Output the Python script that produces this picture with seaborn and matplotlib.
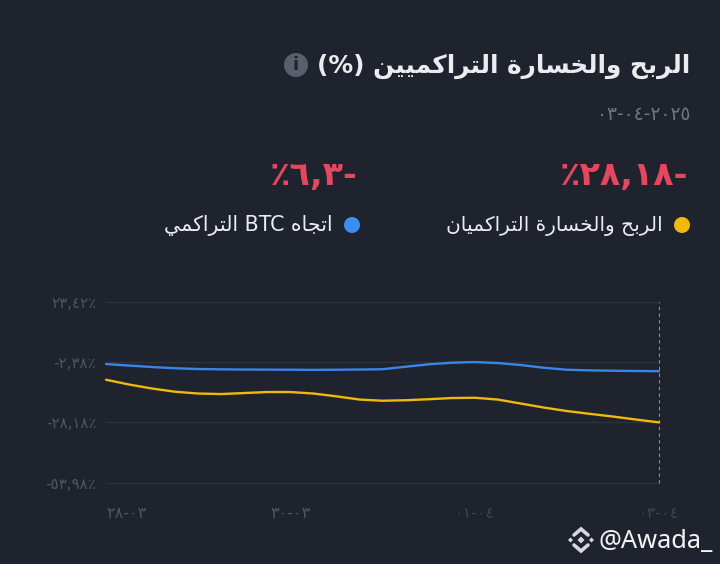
import pandas as pd
import matplotlib
matplotlib.use("Agg")
import matplotlib.pyplot as plt
from matplotlib.patches import Circle, Polygon
import seaborn as sns

# values, every 6 hours
dates = pd.date_range("2025-03-28", periods=25, freq="6h")
trader_pnl = [-9.95, -12.00, -13.71, -15.08, -15.85, -16.07, -15.64, -15.21, -15.21,
              -15.85, -17.05, -18.42, -18.93, -18.72, -18.29, -17.78, -17.65, -18.42,
              -20.13, -21.84, -23.34, -24.54, -25.69, -26.97, -28.18]
btc_trend = [-3.24, -3.88, -4.52, -5.03, -5.37, -5.50, -5.59, -5.63, -5.67,
             -5.72, -5.67, -5.59, -5.46, -4.39, -3.36, -2.68, -2.38, -2.81,
             -3.66, -4.82, -5.67, -5.95, -6.10, -6.20, -6.30]

y_ticks = [23.42, -2.38, -28.18, -53.98]
y_labels = ["٢٣,٤٢٪", "-٢,٣٨٪", "-٢٨,١٨٪", "-٥٣,٩٨٪"]
x_ticks = pd.to_datetime(["2025-03-28", "2025-03-30", "2025-04-01", "2025-04-03"])
x_labels = ["٢٨-٠٣", "٣٠-٠٣", "٠١-٠٤", "٠٣-٠٤"]

BG = "#1e232d"
GRID = "#2c323c"
YELLOW = "#f0b90b"
BLUE = "#3a86e8"
RED = "#e5475f"
TEXT = "#eaecef"

# matplotlib does no arabic shaping, so pick the joined glyphs by hand
FORMS = {
    "ا": (0xFE8D, 0xFE8E), "ر": (0xFEAD, 0xFEAE), "و": (0xFEED, 0xFEEE), "ة": (0xFE93, 0xFE94),
    "ل": (0xFEDD, 0xFEDE, 0xFEDF, 0xFEE0), "ب": (0xFE8F, 0xFE90, 0xFE91, 0xFE92),
    "ح": (0xFEA1, 0xFEA2, 0xFEA3, 0xFEA4), "خ": (0xFEA5, 0xFEA6, 0xFEA7, 0xFEA8),
    "س": (0xFEB1, 0xFEB2, 0xFEB3, 0xFEB4), "ت": (0xFE95, 0xFE96, 0xFE97, 0xFE98),
    "ك": (0xFED9, 0xFEDA, 0xFEDB, 0xFEDC), "م": (0xFEE1, 0xFEE2, 0xFEE3, 0xFEE4),
    "ي": (0xFEF1, 0xFEF2, 0xFEF3, 0xFEF4), "ن": (0xFEE5, 0xFEE6, 0xFEE7, 0xFEE8),
    "ج": (0xFE9D, 0xFE9E, 0xFE9F, 0xFEA0), "ه": (0xFEE9, 0xFEEA, 0xFEEB, 0xFEEC),
}


def shape(word_text):
    out = []
    for word in word_text.split(" "):
        glyphs = []
        for i, ch in enumerate(word):
            forms = FORMS[ch]
            joins_prev = i > 0 and len(FORMS[word[i - 1]]) == 4
            joins_next = i < len(word) - 1 and len(forms) == 4
            if len(forms) == 2:
                glyphs.append(chr(forms[1 if joins_prev else 0]))
            elif joins_prev and joins_next:
                glyphs.append(chr(forms[3]))
            elif joins_next:
                glyphs.append(chr(forms[2]))
            elif joins_prev:
                glyphs.append(chr(forms[1]))
            else:
                glyphs.append(chr(forms[0]))
        out.append("".join(glyphs))
    return " ".join(out)[::-1]


sns.set_theme(style="dark")
plt.rcParams["font.family"] = ["DejaVu Sans"]

df = pd.DataFrame({"date": dates, "trader": trader_pnl, "btc": btc_trend})
long_df = df.melt(id_vars="date", var_name="series", value_name="value")

W, H = 720, 564
fig = plt.figure(figsize=(W / 100, H / 100), dpi=100, facecolor=BG)

# chart area, in picture pixels
ax = fig.add_axes([106 / W, 1 - 482.7 / H, (659 - 106) / W, (482.7 - 301.7) / H], facecolor=BG)
sns.lineplot(data=long_df, x="date", y="value", hue="series",
             palette={"trader": YELLOW, "btc": BLUE}, linewidth=1.7,
             legend=False, ax=ax, clip_on=False, zorder=3)

ax.set_xlim(dates[0], dates[-1])
ax.set_ylim(y_ticks[-1], y_ticks[0])
ax.set_yticks(y_ticks)
ax.set_yticklabels(y_labels, fontsize=10.8, color="#50555e")
ax.set_xticks(x_ticks)
ax.set_xticklabels(x_labels, fontsize=11.5)
ax.set_xlabel("")
ax.set_ylabel("")
ax.tick_params(axis="y", length=0, pad=7)
ax.tick_params(axis="x", length=0, pad=17)
for lab, ha, col in zip(ax.get_xticklabels(), ["left", "center", "center", "center"],
                        ["#50555e", "#50555e", "#3f444d", "#3f444d"]):
    lab.set_ha(ha)
    lab.set_color(col)
for y in y_ticks:
    ax.axhline(y, color=GRID, linewidth=1, zorder=1, clip_on=False)
ax.axvline(dates[-1], color="#8a8f98", linewidth=0.8, linestyle=(0, (3, 3)), zorder=2, clip_on=False)
sns.despine(ax=ax, left=True, bottom=True)

# everything around the chart goes on a pixel-sized overlay
ov = fig.add_axes([0, 0, 1, 1], facecolor="none")
ov.set_xlim(0, W)
ov.set_ylim(H, 0)
ov.axis("off")

ov.text(690, 66, "(%) " + shape("الربح والخسارة التراكميين"), color=TEXT, fontsize=17.8,
        fontweight="bold", ha="right", va="center")
ov.add_patch(Circle((296, 65), 12, color="#5a5f6b", lw=0))
ov.text(296, 65, "i", color=BG, fontsize=13, fontweight="bold", ha="center", va="center")
ov.text(690, 114, "٠٣-٠٤-٢٠٢٥", color="#70757e", fontsize=13.4, ha="right", va="center")

ov.text(688, 176, "٪٢٨,١٨-", color=RED, fontsize=24, fontweight="bold", ha="right", va="center")
ov.text(358, 176, "٪٦,٣-", color=RED, fontsize=24, fontweight="bold", ha="right", va="center")

ov.add_patch(Circle((682, 225), 8, color=YELLOW, lw=0))
ov.add_patch(Circle((352, 225), 8, color="#3b8ff0", lw=0))
ov.text(663, 226, shape("الربح والخسارة التراكميان"), color=TEXT, fontsize=14.5, ha="right", va="center")
ov.text(333, 226, shape("التراكمي") + " BTC " + shape("اتجاه"), color=TEXT, fontsize=14.8,
        ha="right", va="center")

# watermark logo
LOGO = "#d5d8de"
cx, cy = 581, 540
for dx, dy, r in [(0, 0, 3.5), (-10.5, 0, 2.5), (10.5, 0, 2.5)]:
    ov.add_patch(Polygon([(cx + dx - r, cy + dy), (cx + dx, cy + dy - r),
                          (cx + dx + r, cy + dy), (cx + dx, cy + dy + r)], color=LOGO, lw=0))
ov.plot([cx - 7, cx, cx + 7], [cy - 5, cy - 11, cy - 5], color=LOGO, lw=2.6, solid_joinstyle="miter")
ov.plot([cx - 7, cx, cx + 7], [cy + 5, cy + 11, cy + 5], color=LOGO, lw=2.6, solid_joinstyle="miter")
ov.text(598, 541, "@Awada_", color="#f2f3f5", fontsize=18.3, family="Noto Sans", ha="left", va="center")

fig.savefig("out.png", dpi=100, facecolor=BG)
